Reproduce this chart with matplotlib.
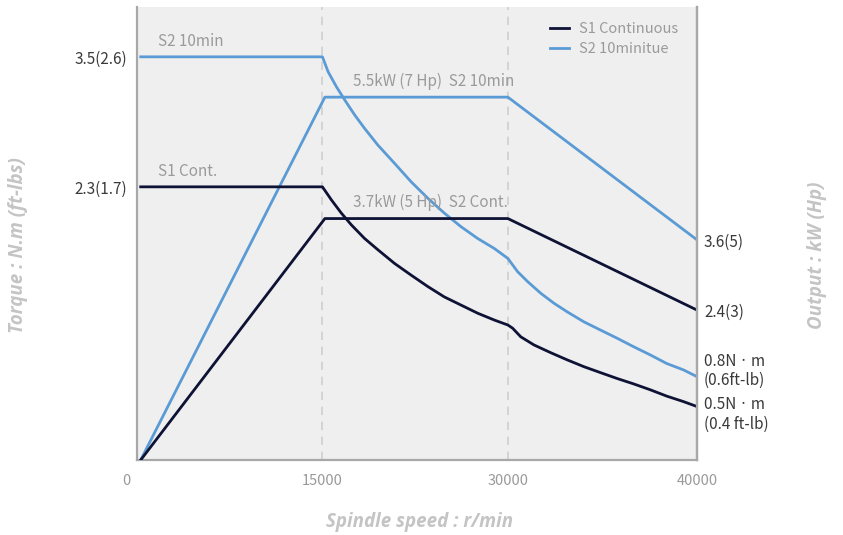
import numpy as np
import matplotlib
matplotlib.use('Agg')
import matplotlib.pyplot as plt
from matplotlib.transforms import ScaledTranslation

plt.rcParams['font.family'] = ['Noto Sans CJK KR', 'DejaVu Sans']

# x axis is drawn with equally spaced ticks (0, 15000, 30000, 40000)
tick_rpm = [0, 15000, 30000, 40000]
tick_labels = ['0', '15000', '30000', '40000']

# y values in chart units (0 = bottom, 100 = top of plot area)
s2_torque_rpm = [300, 15000, 15460, 16130, 16800, 17600, 18410, 19490, 20830, 22180, 23520,
                 24860, 26210, 27560, 28900, 30000, 30510, 31040, 31740, 32440, 33140, 34020,
                 34890, 35770, 36650, 37530, 38400, 39280, 40000]
s2_torque_val = [89.0, 89.0, 85.7, 82.4, 79.5, 76.2, 73.2, 69.5, 65.5, 61.4, 57.8,
                 54.5, 51.5, 48.9, 46.7, 44.5, 41.6, 39.4, 36.8, 34.6, 32.7, 30.5,
                 28.7, 26.9, 25.0, 23.2, 21.3, 19.9, 18.4]
s1_torque_rpm = [300, 15000, 15730, 16530, 17340, 18410, 19490, 20830, 22180, 23520, 24860,
                 26210, 27560, 28900, 30000, 30250, 30680, 31380, 32260, 33140, 34020, 34890,
                 35770, 36650, 37530, 38400, 39280, 40000]
s1_torque_val = [60.3, 60.3, 57.4, 54.5, 51.9, 48.9, 46.4, 43.4, 40.8, 38.3, 36.0,
                 34.2, 32.4, 30.9, 29.8, 29.1, 27.2, 25.4, 23.7, 22.1, 20.6, 19.3,
                 18.0, 16.8, 15.5, 14.1, 12.9, 11.8]

s2_power_rpm = [300, 15200, 30000, 40000]
s2_power_val = [0, 80.1, 80.1, 48.6]
s1_power_rpm = [300, 15200, 30000, 40000]
s1_power_val = [0, 53.3, 53.3, 33.1]

left_ticks = [89.0, 60.3]
left_labels = ['3.5(2.6)', '2.3(1.7)']
right_ticks = [48.6, 33.1, 20.4, 10.8]
right_labels = ['3.6(5)', '2.4(3)', '0.8N\u2009·\u2009m\n(0.6ft-lb)', '0.5N\u2009·\u2009m\n(0.4 ft-lb)']

dark = '#0e1235'
light = '#5b9bd5'
grey_txt = '#9a9a9a'
axis_txt = '#3a3a3a'

pos = [0, 1, 2, 3.02]


def fwd(x):
    return np.interp(x, tick_rpm, pos)


def inv(p):
    return np.interp(p, pos, tick_rpm)


fig = plt.figure(figsize=(8.43, 5.35), dpi=100, facecolor='w')
ax = fig.add_axes([137 / 843, 75 / 535, 560 / 843, 453 / 535], facecolor='#efefef')
ax.set_xscale('function', functions=(fwd, inv))
ax.set_xlim(0, 40000)
ax.set_ylim(0, 100)

for x in (15000, 30000):
    ax.axvline(x, color='#cfcfcf', lw=1.2, ls=(0, (5, 4)), zorder=1)

ax.plot(s2_torque_rpm, s2_torque_val, color=light, lw=2, zorder=3)
ax.plot(s2_power_rpm, s2_power_val, color=light, lw=2, zorder=3)
ax.plot(s1_torque_rpm, s1_torque_val, color=dark, lw=2, zorder=3)
ax.plot(s1_power_rpm, s1_power_val, color=dark, lw=2, zorder=3)

ax.set_xticks(tick_rpm)
ax.set_xticklabels(tick_labels)
ax.xaxis.set_minor_locator(matplotlib.ticker.NullLocator())
ax.tick_params(axis='x', length=0, pad=10, labelsize=10.5, labelcolor=grey_txt)
xl = ax.get_xticklabels()
xl[0].set_transform(xl[0].get_transform() + ScaledTranslation(-11 / 100, 0, fig.dpi_scale_trans))

ax.set_yticks(left_ticks)
ax.set_yticklabels(left_labels)
ax.tick_params(axis='y', length=0, pad=7, labelsize=11, labelcolor=axis_txt)

ax.spines['top'].set_visible(False)
for s in ('left', 'right', 'bottom'):
    ax.spines[s].set_color('#a8a8a8')
    ax.spines[s].set_linewidth(1.6)

ax2 = ax.twinx()
ax2.set_ylim(0, 100)
ax2.set_yticks(right_ticks)
ax2.set_yticklabels(right_labels)
ax2.tick_params(axis='y', length=0, pad=5, labelsize=11, labelcolor=axis_txt)
for s in ('top', 'left', 'bottom'):
    ax2.spines[s].set_visible(False)
ax2.spines['right'].set_color('#a8a8a8')
ax2.spines['right'].set_linewidth(1.6)

# curve annotations
ax.text(1700, 91.5, 'S2 10min', color=grey_txt, fontsize=11)
ax.text(1700, 62.8, 'S1 Cont.', color=grey_txt, fontsize=11)
ax.text(17500, 82.5, '5.5kW (7 Hp)  S2 10min', color=grey_txt, fontsize=11)
ax.text(17500, 55.8, '3.7kW (5 Hp)  S2 Cont.', color=grey_txt, fontsize=11)

ax.plot([], [], color=dark, lw=2, label='S1 Continuous')
ax.plot([], [], color=light, lw=2, label='S2 10minitue')
leg = ax.legend(loc='upper right', frameon=False, fontsize=10.5, handlelength=1.3,
                handletextpad=0.7, labelspacing=0.45, borderaxespad=0.3,
                bbox_to_anchor=(0.985, 0.99))
for t in leg.get_texts():
    t.set_color(grey_txt)

lab = dict(color='#c4c4c4', fontsize=13.5, fontstyle='italic', fontweight='bold',
           family=['Open Sans', 'DejaVu Sans'])
fig.text(420 / 843, 1 - 522 / 535, 'Spindle speed : r/min', ha='center', va='center', **lab)
fig.text(18 / 843, 1 - 245 / 535, 'Torque : N.m (ft-lbs)', ha='center', va='center', rotation=90, **lab)
fig.text(817 / 843, 1 - 255 / 535, 'Output : kW (Hp)', ha='center', va='center', rotation=90, **lab)

plt.savefig('out.png', dpi=100)
